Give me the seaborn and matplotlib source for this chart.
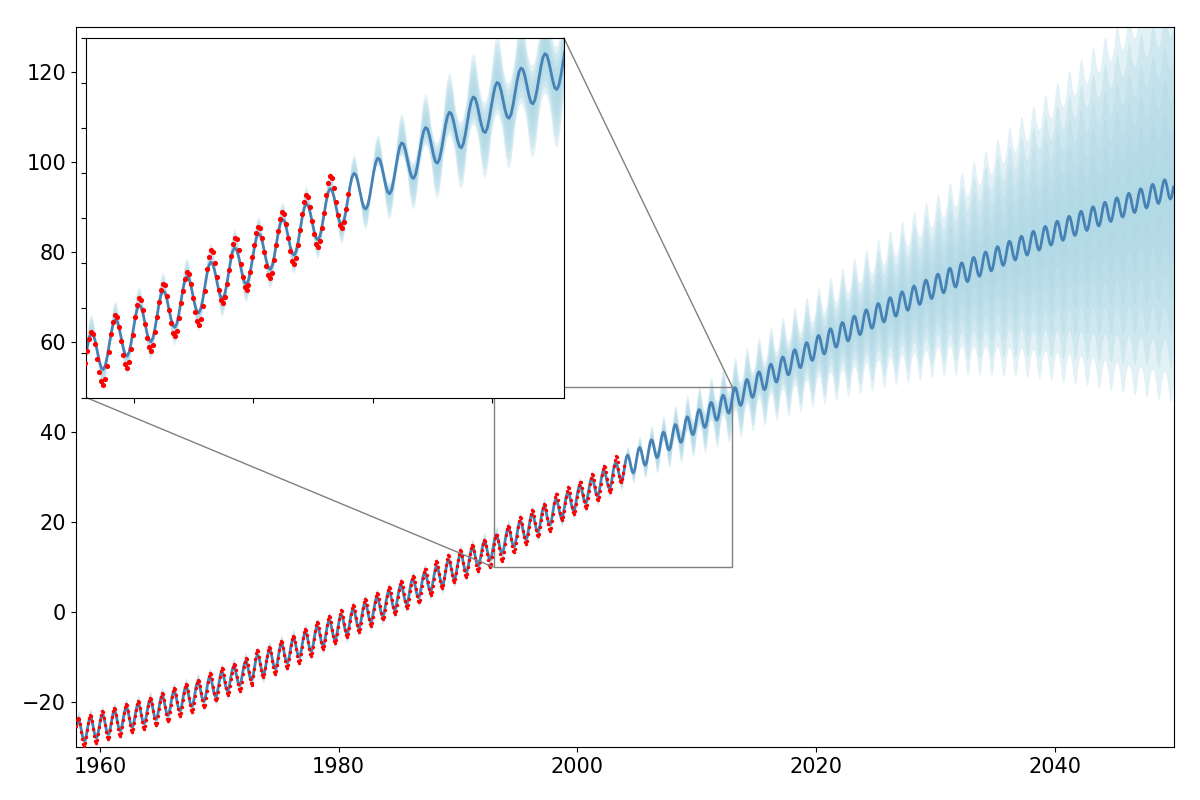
import numpy as np
import pandas as pd
import matplotlib
matplotlib.use("Agg")
import matplotlib.pyplot as plt
import seaborn as sns
from mpl_toolkits.axes_grid1.inset_locator import zoomed_inset_axes, mark_inset

plt.rcParams['font.size'] = 15

# GP mean, annual level, 1958..2049
years = list(range(1958, 2050))
trend = [-26.3, -25.6,
         -24.9, -24.1, -23.3, -22.5, -21.6, -20.7, -19.7, -18.7, -17.6, -16.5,
         -15.3, -14.1, -12.9, -11.6, -10.4, -9.1, -7.8, -6.5, -5.2, -3.9,
         -2.6, -1.3, 0.0, 1.3, 2.7, 4.0, 5.4, 6.8, 8.2, 9.6,
         11.0, 12.4, 13.8, 15.2, 16.7, 18.3, 19.9, 21.5, 23.1, 24.7,
         26.3, 27.9, 29.6, 31.3, 33.0, 34.7, 36.4, 38.1, 39.8, 41.5,
         43.1, 44.7, 46.3, 48.0, 49.8, 51.5, 53.2, 54.8, 56.4, 58.0,
         59.5, 61.0, 62.4, 63.8, 65.2, 66.6, 67.9, 69.2, 70.5, 71.8,
         73.1, 74.4, 75.6, 76.8, 78.0, 79.2, 80.4, 81.5, 82.6, 83.7,
         84.8, 85.9, 87.0, 88.0, 89.0, 90.0, 91.0, 92.0, 93.0, 94.0]
# rise within a year, per decade 1950s..2040s
growth = [0.7, 0.9, 1.25, 1.35, 1.55, 1.7, 1.65, 1.35, 1.2, 1.05]
# monthly seasonal offsets of the mean
season = [1.2, 2.1, 2.4, 2.1, 1.2, 0.0, -1.2, -2.1, -2.4, -2.1, -1.2, 0.0]

# outer band half width per year, plus extra reach at seasonal peaks/troughs
band_base = [0.6, 0.4,
             0.3, 0.3, 0.3, 0.3, 0.3, 0.3, 0.3, 0.3, 0.3, 0.3,
             0.3, 0.3, 0.3, 0.3, 0.3, 0.3, 0.3, 0.3, 0.3, 0.3,
             0.3, 0.3, 0.3, 0.3, 0.3, 0.3, 0.3, 0.3, 0.3, 0.3,
             0.3, 0.3, 0.3, 0.3, 0.3, 0.3, 0.3, 0.3, 0.3, 0.3,
             0.3, 0.3, 0.3, 0.3, 0.4, 1.0, 1.6, 2.1, 2.7, 3.2,
             3.7, 4.1, 4.6, 5.1, 5.6, 6.1, 6.7, 7.3, 7.9, 8.5,
             9.2, 9.9, 10.6, 11.3, 12.0, 12.7, 13.4, 14.2, 15.0, 15.7,
             16.5, 17.6, 18.8, 20.0, 21.3, 22.6, 23.9, 25.2, 26.6, 28.0,
             29.5, 31.0, 32.5, 34.0, 35.5, 37.0, 38.5, 40.0, 41.5, 43.0]
band_growth = [0.0, 0.0, 0.0, 0.0, 0.0, 0.5, 0.6, 0.72, 1.3, 1.5]
band_spike = 1.8
n_bands = 6

# observations (red), annual level + monthly offsets
obs_years = list(range(1958, 2004))
obs_mean = [-26.4, -25.8,
            -25.0, -24.3, -23.4, -22.7, -21.9, -21.0, -19.8, -18.9, -17.9, -16.4,
            -15.3, -14.3, -13.1, -11.3, -10.6, -9.3, -8.1, -6.5, -5.0, -3.7,
            -2.4, -1.2, 0.1, 1.5, 2.8, 4.1, 5.3, 6.9, 8.6, 9.8,
            11.0, 12.2, 13.2, 14.5, 16.4, 18.3, 19.9, 21.2, 23.6, 25.0,
            26.3, 27.9, 29.8, 31.9]
obs_season = [1.4, 2.6, 3.2, 2.9, 1.6, -0.1, -1.7, -2.9, -3.4, -2.9, -1.6, -0.1]

# build monthly series
phase = (np.arange(12) + 0.5) / 12
smax = max(abs(s) for s in season)
rows = []
for i, y in enumerate(years):
    d = (y - 1950) // 10
    for m in range(12):
        mu = trend[i] + growth[d] * (phase[m] - 0.5) + season[m]
        hw = band_base[i] + band_growth[d] * (phase[m] - 0.5)
        up = hw + band_spike * max(season[m], 0) / smax
        lo = hw + band_spike * max(-season[m], 0) / smax
        rows.append((y + phase[m], mu, up, lo))
pred = pd.DataFrame(rows, columns=['t', 'mu', 'up', 'lo'])

orows = []
for i, y in enumerate(obs_years):
    d = (y - 1950) // 10
    for m in range(12):
        orows.append((y + phase[m], obs_mean[i] + growth[d] * (phase[m] - 0.5) + obs_season[m]))
obs = pd.DataFrame(orows, columns=['t', 'co2'])


def draw(ax, dot_size):
    for k in range(1, n_bands + 1):
        f = k / n_bands
        ax.fill_between(pred['t'], pred['mu'] - f * pred['lo'], pred['mu'] + f * pred['up'],
                        color='lightblue', alpha=0.35, lw=0)
    sns.lineplot(data=pred, x='t', y='mu', color='steelblue', lw=2, ax=ax)
    sns.scatterplot(data=obs, x='t', y='co2', color='red', s=dot_size, linewidth=0,
                    zorder=3, ax=ax)
    ax.set_xlabel('')
    ax.set_ylabel('')


fig, ax = plt.subplots(figsize=(12, 8), dpi=100)
fig.subplots_adjust(left=0.0633, right=0.9783, bottom=0.066, top=0.966)
draw(ax, 6)
ax.set_xlim(1958, 2050)
ax.set_ylim(-30, 130)

axins = zoomed_inset_axes(ax, 2, loc='upper left')
draw(axins, 14)
axins.set_xlim(1993, 2013)
axins.set_ylim(10, 50)
axins.tick_params(labelleft=False, labelbottom=False)
mark_inset(ax, axins, loc1=1, loc2=3, fc='none', ec='0.5')

plt.savefig('out.png')
